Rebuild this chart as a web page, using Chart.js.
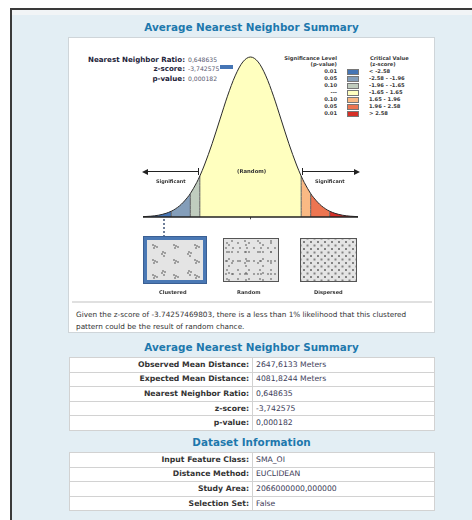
<!DOCTYPE html>
<html>
<head>
<meta charset="utf-8">
<script src="https://cdn.jsdelivr.net/npm/chart.js@4.4.1/dist/chart.umd.min.js"></script>
<style>
body{margin:0;width:472px;height:520px;overflow:hidden;background:#fff;position:relative;font-family:"DejaVu Sans",Verdana,sans-serif}
.abs{position:absolute;white-space:nowrap}
.frame{left:10px;top:8px;right:0;bottom:0;border-left:2px solid #3a3a3a;border-top:2px solid #3a3a3a;background:#e3eef4}
.strip{left:12px;top:10px;right:0;height:5px;background:#f1f4f6}
.panel{left:68px;top:37px;width:367px;height:296px;background:#fff;border:1px solid #cfd5d9;box-sizing:border-box}
.title{left:68px;width:367px;text-align:center;color:#1d78ad;font-weight:bold;font-size:10.4px;line-height:14px}
.info{line-height:8px}
.info b{color:#23233a;font-size:7.1px}
.info span{color:#5a5a70;font-size:6.1px}
.lg{font-size:5.2px;line-height:6px;font-weight:bold;color:#3a3a3a}
.sw{width:10px;height:4px;border:1px solid #777}
.note{font-size:5.3px;font-weight:bold;color:#333;line-height:8px}
.arrow{height:0;border-top:1px solid #222}
.bar{width:0;height:7px;border-left:1px solid #222}
.box{box-sizing:border-box;background-color:#e4e4e4}
.para{left:76px;top:309px;font-size:7.3px;line-height:12px;color:#333}
table{position:absolute;left:69px;width:366px;border-collapse:collapse;background:#fff;font-size:7.7px}
td{border:1px solid #d2d2d2;padding:0 3px;height:13.6px;line-height:12px}
td.l{text-align:right;font-weight:bold;color:#333;width:176px}
td.v{color:#3c3c58}
</style>
</head>
<body>
<div class="abs frame"></div>
<div class="abs strip"></div>
<div class="abs title" style="top:20px">Average Nearest Neighbor Summary</div>
<div class="abs panel"></div>

<div class="abs info" style="right:287px;top:53px"><b>Nearest Neighbor Ratio:</b></div>
<div class="abs info" style="left:188px;top:53px"><span>0,648635</span></div>
<div class="abs info" style="right:287px;top:62px"><b>z-score:</b></div>
<div class="abs info" style="left:188px;top:62px"><span>-3,742575</span></div>
<div class="abs" style="left:220px;top:64.5px;width:13px;height:4px;background:#4575b5"></div>
<div class="abs info" style="right:287px;top:72px"><b>p-value:</b></div>
<div class="abs info" style="left:188px;top:72px"><span>0,000182</span></div>

<div id="legend"></div>

<canvas id="bell" class="abs" width="236" height="172" style="left:133px;top:50px"></canvas>

<div class="abs note" style="left:237px;top:167px">(Random)</div>
<div class="abs arrow" style="left:144px;top:171px;width:54px"></div>
<div class="abs" style="left:142px;top:168.5px;width:0;height:0;border-top:3px solid transparent;border-bottom:3px solid transparent;border-right:6px solid #222"></div>
<div class="abs bar" style="left:198px;top:168px"></div>
<div class="abs arrow" style="left:302px;top:171px;width:54px"></div>
<div class="abs" style="left:354px;top:168.5px;width:0;height:0;border-top:3px solid transparent;border-bottom:3px solid transparent;border-left:6px solid #222"></div>
<div class="abs bar" style="left:302px;top:168px"></div>
<div class="abs note" style="left:156px;top:177px;font-size:4.9px">Significant</div>
<div class="abs note" style="left:315px;top:177px;font-size:4.9px">Significant</div>

<div class="abs" style="left:163px;top:219px;height:18px;border-left:2px dotted #6f7f9a"></div>
<div class="abs box" style="left:144px;top:237px;width:62px;height:46px;border:3px solid #4a78b4;box-shadow:0 0 0 1px #3a5f93;
  background-image:radial-gradient(circle at 1px 1px,#555 0.5px,transparent 0.9px),radial-gradient(circle at 1px 1px,#555 0.5px,transparent 0.9px),radial-gradient(circle at 1px 1px,#555 0.5px,transparent 0.9px),radial-gradient(circle at 1px 1px,#555 0.5px,transparent 0.9px),radial-gradient(circle at 1px 1px,#555 0.5px,transparent 0.9px),radial-gradient(circle at 1px 1px,#555 0.5px,transparent 0.9px),radial-gradient(circle at 1px 1px,#555 0.5px,transparent 0.9px),radial-gradient(circle at 1px 1px,#555 0.5px,transparent 0.9px);
  background-size:21px 15px,21px 15px,21px 15px,21px 15px,26px 19px,26px 19px,26px 19px,26px 19px;
  background-position:5px 4px,7px 5px,6px 7px,9px 6px,15px 11px,17px 12px,14px 13px,16px 15px"></div>
<div class="abs box" style="left:223px;top:238px;width:56px;height:44px;border:1px solid #555;
  background-image:radial-gradient(circle at 1px 1px,#555 0.5px,transparent 0.9px),radial-gradient(circle at 1px 1px,#555 0.5px,transparent 0.9px),radial-gradient(circle at 1px 1px,#555 0.5px,transparent 0.9px),radial-gradient(circle at 1px 1px,#555 0.5px,transparent 0.9px);
  background-size:11px 9px,13px 11px,17px 7px,7px 13px;
  background-position:2px 3px,7px 1px,4px 5px,1px 8px"></div>
<div class="abs box" style="left:300px;top:238px;width:57px;height:44px;border:1px solid #555;
  background-image:radial-gradient(circle at 1px 1px,#444 0.55px,transparent 0.95px),radial-gradient(circle at 1px 1px,#444 0.55px,transparent 0.95px);
  background-size:7px 7px,7px 7px;
  background-position:2px 2px,5.5px 5.5px"></div>
<div class="abs note" style="left:159px;top:288px;font-size:5.1px">Clustered</div>
<div class="abs note" style="left:237px;top:288px;font-size:5.1px">Random</div>
<div class="abs note" style="left:314px;top:288px;font-size:5.1px">Dispersed</div>

<div class="abs" style="left:72px;top:301px;width:360px;height:2px;background:#e0e0e0"></div>
<div class="abs para">Given the z-score of -3.74257469803, there is a less than 1% likelihood that this clustered<br>pattern could be the result of random chance.</div>

<div class="abs title" style="top:340px">Average Nearest Neighbor Summary</div>
<table id="summary" style="top:357px"></table>
<div class="abs title" style="top:435px">Dataset Information</div>
<table id="dataset" style="top:452px"></table>

<script>
// curve, height relative to the peak
const zScores = [-3.5, -3.25, -3, -2.75, -2.58, -2.5, -2.25, -2, -1.96, -1.75, -1.65, -1.5, -1.25, -1, -0.75, -0.5, -0.25, 0,
  0.25, 0.5, 0.75, 1, 1.25, 1.5, 1.65, 1.75, 1.96, 2, 2.25, 2.5, 2.58, 2.75, 3, 3.25, 3.5];
const curveHeights = [0.002, 0.005, 0.011, 0.023, 0.036, 0.044, 0.080, 0.135, 0.146, 0.216, 0.256, 0.325, 0.458, 0.607, 0.755, 0.882, 0.969, 1,
  0.969, 0.882, 0.755, 0.607, 0.458, 0.325, 0.256, 0.216, 0.146, 0.135, 0.080, 0.044, 0.036, 0.023, 0.011, 0.005, 0.002];
const criticalValues = [-2.58, -1.96, -1.65, 1.65, 1.96, 2.58];
const bandColors = ['#4575b5', '#849eba', '#c0ccbe', '#ffffbf', '#fab984', '#ed7551', '#d62f27'];
const legendP = ['0.01', '0.05', '0.10', '---', '0.10', '0.05', '0.01'];
const legendZ = ['< -2.58', '-2.58 - -1.96', '-1.96 - -1.65', '-1.65 - 1.65', '1.65 - 1.96', '1.96 - 2.58', '> 2.58'];

const summaryLabels = ['Observed Mean Distance:', 'Expected Mean Distance:', 'Nearest Neighbor Ratio:', 'z-score:', 'p-value:'];
const summaryValues = ['2647,6133 Meters', '4081,8244 Meters', '0,648635', '-3,742575', '0,000182'];
const datasetLabels = ['Input Feature Class:', 'Distance Method:', 'Study Area:', 'Selection Set:'];
const datasetValues = ['SMA_OI', 'EUCLIDEAN', '2066000000,000000', 'False'];

function fillTable(id, labels, values) {
  var t = document.getElementById(id);
  labels.forEach(function(l, i) {
    var tr = document.createElement('tr');
    tr.innerHTML = '<td class="l"></td><td class="v"></td>';
    tr.children[0].textContent = l;
    tr.children[1].textContent = values[i];
    t.appendChild(tr);
  });
}
fillTable('summary', summaryLabels, summaryValues);
fillTable('dataset', datasetLabels, datasetValues);

// legend
var lg = document.getElementById('legend');
function addText(txt, style) {
  var d = document.createElement('div');
  d.className = 'abs lg';
  d.setAttribute('style', style);
  d.textContent = txt;
  lg.appendChild(d);
}
addText('Significance Level', 'right:135px;top:55px');
addText('(p-value)', 'right:135px;top:61px');
addText('Critical Value', 'left:370px;top:55px');
addText('(z-score)', 'left:370px;top:61px');
bandColors.forEach(function(c, i) {
  var y = 68 + i * 7.05;
  addText(legendP[i], 'right:135px;top:' + y + 'px');
  addText(legendZ[i], 'left:369px;top:' + y + 'px');
  var s = document.createElement('div');
  s.className = 'abs sw';
  s.style.left = '347px';
  s.style.top = (y + 0.5) + 'px';
  s.style.background = c;
  lg.appendChild(s);
});

// bell curve
const points = zScores.map(function(z, i) { return {x: z, y: curveHeights[i]}; });
const edges = [zScores[0]].concat(criticalValues, [zScores[zScores.length - 1]]);
const common = {pointRadius: 0, clip: false, cubicInterpolationMode: 'monotone'};

var datasets = [];
datasets.push(Object.assign({data: [{x: zScores[0], y: 0}, {x: zScores[zScores.length - 1], y: 0}], borderColor: '#222', borderWidth: 1.3, order: 0}, common));
datasets.push(Object.assign({data: [{x: 0, y: 0}, {x: 0, y: -0.014}], borderColor: '#222', borderWidth: 1, order: 0}, common));
datasets.push(Object.assign({data: points, borderColor: '#2a2a2a', borderWidth: 1, fill: false, order: 1}, common));
criticalValues.forEach(function(z) {
  var h = curveHeights[zScores.indexOf(z)];
  datasets.push(Object.assign({data: [{x: z, y: 0}, {x: z, y: h}], borderColor: '#5a5a5a', borderWidth: 1, order: 2}, common));
});
bandColors.forEach(function(c, i) {
  datasets.push(Object.assign({
    data: points.filter(function(p) { return p.x >= edges[i] && p.x <= edges[i + 1]; }),
    backgroundColor: c, borderWidth: 0, fill: 'origin', order: 3
  }, common));
});

new Chart(document.getElementById('bell'), {
  type: 'line',
  data: {datasets: datasets},
  options: {
    responsive: false,
    animation: false,
    events: [],
    layout: {padding: {left: 10, right: 11, top: 7, bottom: 5}},
    plugins: {legend: {display: false}, tooltip: {enabled: false}},
    scales: {
      x: {type: 'linear', min: -3.5, max: 3.5, display: false},
      y: {min: 0, max: 1, display: false}
    }
  }
});
</script>
</body>
</html>
